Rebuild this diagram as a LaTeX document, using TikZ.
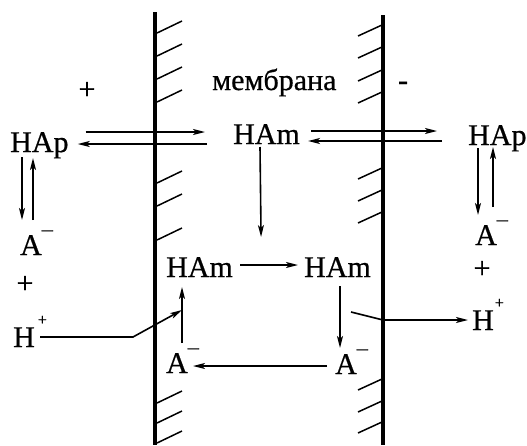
\documentclass[tikz,border=0pt]{standalone}
\usepackage{fontspec}
\setmainfont{Liberation Serif}
\newfontfamily\termsfont[FakeBold=0.6]{Liberation Serif}
\usetikzlibrary{arrows.meta,calc}
\newcommand\ionneg{\raisebox{19pt}{\fontsize{22}{22}\selectfont –}}
\newcommand\ionpos{\raisebox{22pt}{\fontsize{16}{16}\selectfont +}}
\tikzset{
  lbl/.style={inner sep=0pt, font=\termsfont\fontsize{30}{30}\selectfont, anchor=base west},
  sym/.style={lbl, anchor=base},
  arr/.style={-{Stealth[length=12pt,width=6pt,inset=3pt]}, line width=1.6pt},
  wall/.style={line width=3.5pt},
  hatch/.style={line width=1.5pt}}

\begin{document}
\begin{tikzpicture}[x=1pt,y=-1pt]
  \useasboundingbox (0,0) rectangle (527,445);
  % membrane walls
  \coordinate (mLt) at (155,12); \coordinate (mLb) at (155,445);
  \coordinate (mRt) at (383,15); \coordinate (mRb) at (383,445);
  \draw[wall] (mLt) -- (mLb);
  \draw[wall] (mRt) -- (mRb);
  \foreach \y in {33,56,79,102,183,206,240,403,423,443} \draw[hatch] (157,\y) -- ++(25,-12);
  \foreach \y in {25,47,70,92,168,190,212,379,401,422} \draw[hatch] (382,\y) -- ++(-24,11);
  % labels
  \node[lbl] (memb) at (212,90) {мембрана};
  \node[sym] (pL) at (87,99) {+};
  \node[sym] (mR) at (403,90) {-};
  \node[lbl] (HApL) at (10,152) {HAp};
  \node[lbl] (HAm) at (233,144) {HAm};
  \node[lbl] (HApR) at (468,145) {HAp};
  \node[lbl] (AL) at (20,255) {A\ionneg};
  \node[sym] (pL2) at (25,293) {+};
  \node[lbl] (HpL) at (13,347) {H\kern3pt\ionpos};
  \node[lbl] (AR) at (475,245) {A\ionneg};
  \node[sym] (pR) at (482,278) {+};
  \node[lbl] (HpR) at (472,330) {H\kern1pt\ionpos};
  \node[lbl] (HAmL) at (166,277) {HAm};
  \node[lbl] (HAmR) at (304,277) {HAm};
  \node[lbl] (AmBL) at (166,373) {A\ionneg};
  \node[lbl] (AmBR) at (335,374) {A\ionneg};
  % transport
  \draw[arr] ($(HApL.base east)+(17,-20)$) -- ($(HAm.base west)+(-28,-12)$);
  \draw[arr] ($(HAm.base west)+(-26,0)$) -- ($(HApL.base east)+(9,-8)$);
  \draw[arr] ($(HAm.base east)+(11,-13)$) -- ($(HApR.base west)+(-31,-14)$);
  \draw[arr] ($(HApR.base west)+(-26,-4)$) -- ($(HAm.base east)+(8,-3)$);
  \draw[arr] ($(HApR.base west)+(10,3)$) -- ($(AR.base west)+(3,-30)$);
  \draw[arr] ($(AR.base west)+(18,-38)$) -- ($(HApR.base west)+(25,2)$);
  \draw[arr] ($(HApL.base west)+(12,5)$) -- ($(AL.base west)+(2,-35)$);
  \draw[arr] ($(AL.base west)+(13,-35)$) -- ($(HApL.base west)+(23,6)$);
  \draw[arr] ($(HAm.base west)+(27,3)$) -- ($(HAmL.base east)+(28,-40)$);
  \draw[arr] ($(HAmL.base east)+(7,-12)$) -- ($(HAmR.base west)+(-6,-12)$);
  \draw[arr] ($(HAmR.base west)+(36,9)$) -- ($(AmBR.base west)+(5,-26)$);
  \draw[arr] ($(AmBR.base west)+(-8,-8)$) -- ($(AmBL.base west)+(27,-7)$);
  \draw[arr] ($(AmBL.base west)+(16,-30)$) -- ($(HAmL.base west)+(16,10)$);
  \coordinate (meet) at ($(AmBL.base west)+(16,-63)$);
  \draw[arr] ($(HpL.base west)+(27,-10)$) -- ++(93,0) -- (meet);
  \coordinate (hpR) at ($(HpR.base west)+(-4,-10)$);
  \coordinate (rel) at ($(HAmR.base west)+(47,35)$);
  \draw[arr] (rel) -- (mRt |- hpR) -- (hpR);
\end{tikzpicture}
\end{document}
